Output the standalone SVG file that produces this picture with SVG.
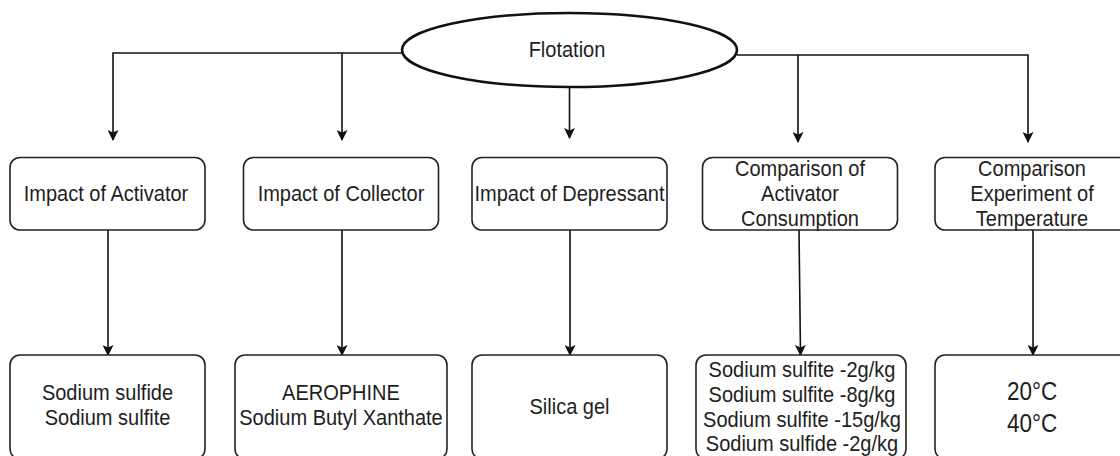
<svg xmlns="http://www.w3.org/2000/svg" width="1120" height="456" viewBox="0 0 1120 456">
<style>
.box{fill:#fff;stroke:#222;stroke-width:1.6}
.ell{fill:#fff;stroke:#111;stroke-width:2.6}
.t{font-family:"Liberation Sans",Arial,sans-serif;font-size:22px;fill:#1e1e1e;text-anchor:middle}
.big{font-size:25px}
.c{fill:none;stroke:#111;stroke-width:1.6}
</style>
<defs>
<marker id="ah" markerUnits="userSpaceOnUse" markerWidth="12" markerHeight="11" refX="10" refY="5.5" orient="auto">
<path d="M0,0 L11,5.5 L0,11 L2.5,5.5 z" fill="#111"/>
</marker>
</defs>
<g id="connectors">
<path class="c" d="M402 53 H113 V140" marker-end="url(#ah)"/>
<path class="c" d="M342 53 V140" marker-end="url(#ah)"/>
<path class="c" d="M569.5 87 V138" marker-end="url(#ah)"/>
<path class="c" d="M737 55 H1028 V142" marker-end="url(#ah)"/>
<path class="c" d="M798 55 V142" marker-end="url(#ah)"/>
<path class="c" d="M108 230 V355" marker-end="url(#ah)"/>
<path class="c" d="M342 230 V355" marker-end="url(#ah)"/>
<path class="c" d="M570 230 V355" marker-end="url(#ah)"/>
<path class="c" d="M799 230 L800.5 355" marker-end="url(#ah)"/>
<path class="c" d="M1033 230 V355" marker-end="url(#ah)"/>
</g>
<g id="flotation">
<ellipse class="ell" cx="569.5" cy="50" rx="167.5" ry="37"/>
<text class="t" transform="translate(567 57) scale(0.91 1)">Flotation</text>
</g>
<g id="impact-activator">
<rect class="box" x="10" y="157.5" width="195" height="72.5" rx="10"/>
<text class="t" transform="translate(106 201) scale(0.91 1)">Impact of Activator</text>
</g>
<g id="impact-collector">
<rect class="box" x="243.5" y="157.5" width="195" height="72.5" rx="10"/>
<text class="t" transform="translate(341 201) scale(0.91 1)">Impact of Collector</text>
</g>
<g id="impact-depressant">
<rect class="box" x="472" y="157.5" width="195" height="72.5" rx="10"/>
<text class="t" transform="translate(569.5 201) scale(0.91 1)">Impact of Depressant</text>
</g>
<g id="comparison-activator">
<rect class="box" x="702.5" y="157.5" width="195" height="72.5" rx="10"/>
<text class="t" transform="translate(800 175.5) scale(0.91 1)">Comparison of</text>
<text class="t" transform="translate(800 200.5) scale(0.91 1)">Activator</text>
<text class="t" transform="translate(800 225.5) scale(0.91 1)">Consumption</text>
</g>
<g id="comparison-temperature">
<rect class="box" x="935" y="157.5" width="195" height="72.5" rx="10"/>
<text class="t" transform="translate(1032 175.5) scale(0.91 1)">Comparison</text>
<text class="t" transform="translate(1032 200.5) scale(0.91 1)">Experiment of</text>
<text class="t" transform="translate(1032 225.5) scale(0.91 1)">Temperature</text>
</g>
<g id="activators">
<rect class="box" x="10" y="355" width="195" height="104" rx="10"/>
<text class="t" transform="translate(107.5 400) scale(0.91 1)">Sodium sulfide</text>
<text class="t" transform="translate(107.5 425) scale(0.91 1)">Sodium sulfite</text>
</g>
<g id="collectors">
<rect class="box" x="235" y="355" width="212" height="104" rx="10"/>
<text class="t" transform="translate(341 400) scale(0.91 1)">AEROPHINE</text>
<text class="t" transform="translate(341 425) scale(0.91 1)">Sodium Butyl Xanthate</text>
</g>
<g id="depressant">
<rect class="box" x="472" y="355" width="195" height="104" rx="10"/>
<text class="t" transform="translate(569.5 413.5) scale(0.91 1)">Silica gel</text>
</g>
<g id="consumption">
<rect class="box" x="696" y="355" width="210" height="104" rx="10"/>
<text class="t" transform="translate(802 377) scale(0.91 1)">Sodium sulfite -2g/kg</text>
<text class="t" transform="translate(802 402) scale(0.91 1)">Sodium sulfite -8g/kg</text>
<text class="t" transform="translate(802 426.5) scale(0.91 1)">Sodium sulfite -15g/kg</text>
<text class="t" transform="translate(802 451) scale(0.91 1)">Sodium sulfide -2g/kg</text>
</g>
<g id="temperatures">
<rect class="box" x="935" y="355" width="195" height="104" rx="10"/>
<text class="t big" transform="translate(1032 400) scale(0.9 1)">20°C</text>
<text class="t big" transform="translate(1032 431.5) scale(0.9 1)">40°C</text>
</g>
</svg>
